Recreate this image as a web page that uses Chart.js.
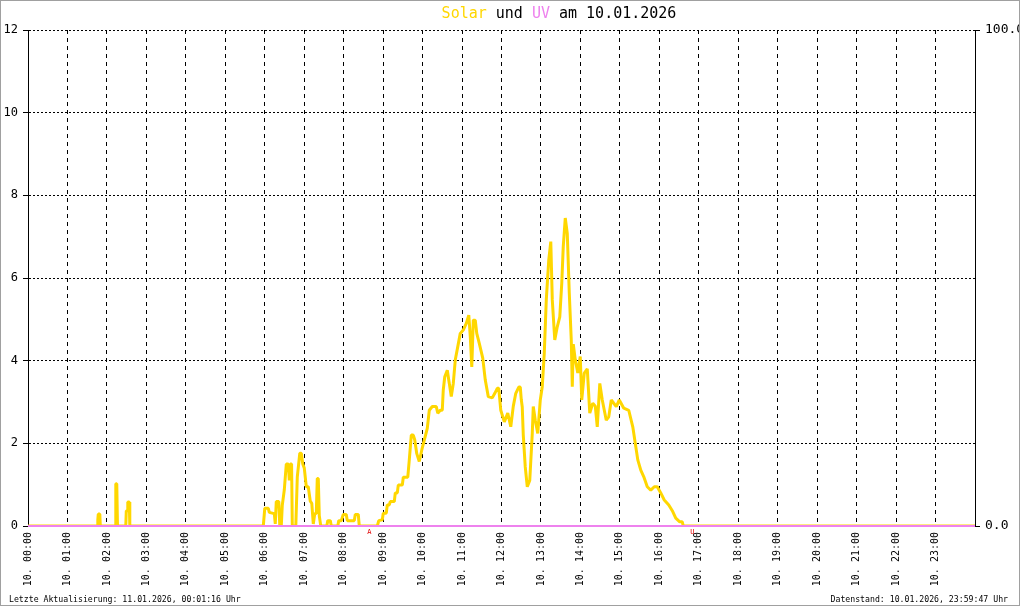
<!DOCTYPE html>
<html>
<head>
<meta charset="utf-8">
<script src="https://cdn.jsdelivr.net/npm/chart.js@4.4.1/dist/chart.umd.min.js"></script>
<style>
  html, body { margin: 0; padding: 0; background: #fff; }
  canvas { display: block; }
</style>
</head>
<body>
<canvas id="solarChart" width="1020" height="606"></canvas>
<script>
// time of day in hours, solar values (left axis)
var solarTime = [
  0, 1.756, 1.769, 1.781, 1.820, 1.832, 2.207, 2.225, 2.250, 2.268,
  2.478, 2.491, 2.516, 2.529, 2.567, 2.580, 5.963, 6.001, 6.090, 6.115,
  6.242, 6.267, 6.292, 6.356, 6.381, 6.419, 6.444, 6.495, 6.546, 6.597,
  6.622, 6.647, 6.680, 6.698, 6.787, 6.825, 6.888, 6.926, 6.964, 7.002,
  7.053, 7.103, 7.154, 7.192, 7.230, 7.268, 7.306, 7.331, 7.357, 7.382,
  7.420, 7.572, 7.598, 7.661, 7.686, 7.851, 7.876, 7.940, 7.990, 8.066,
  8.092, 8.269, 8.294, 8.370, 8.396, 8.852, 8.890, 8.979, 9.004, 9.080,
  9.105, 9.156, 9.181, 9.283, 9.308, 9.359, 9.384, 9.486, 9.511, 9.625,
  9.663, 9.714, 9.764, 9.802, 9.853, 9.916, 9.980, 10.043, 10.119, 10.170,
  10.246, 10.347, 10.385, 10.448, 10.499, 10.524, 10.562, 10.626, 10.677, 10.727,
  10.778, 10.829, 10.892, 10.955, 11.031, 11.107, 11.171, 11.209, 11.247, 11.285,
  11.335, 11.373, 11.437, 11.525, 11.589, 11.665, 11.766, 11.830, 11.893, 11.931,
  11.982, 12.071, 12.159, 12.235, 12.299, 12.362, 12.438, 12.476, 12.501, 12.526,
  12.552, 12.602, 12.653, 12.716, 12.780, 12.805, 12.856, 12.919, 12.983, 13.033,
  13.084, 13.135, 13.198, 13.249, 13.287, 13.350, 13.413, 13.477, 13.527, 13.565,
  13.616, 13.667, 13.718, 13.768, 13.794, 13.819, 13.870, 13.933, 13.996, 14.034,
  14.098, 14.174, 14.237, 14.313, 14.377, 14.427, 14.491, 14.554, 14.605, 14.655,
  14.718, 14.782, 14.845, 14.909, 14.985, 15.099, 15.225, 15.327, 15.390, 15.454,
  15.530, 15.606, 15.694, 15.783, 15.872, 15.948, 16.036, 16.125, 16.239, 16.340,
  16.416, 16.518, 16.581, 16.607, 24
];
var solarValue = [
  0, 0, 0.15, 0.29, 0.29, 0, 0, 1.02, 1.02, 0,
  0, 0.37, 0.37, 0.58, 0.58, 0, 0, 0.43, 0.43, 0.33,
  0.30, 0.05, 0.59, 0.59, 0, 0, 0.50, 0.87, 1.50, 1.50,
  1.10, 1.50, 1.50, 0, 0, 1.19, 1.76, 1.76, 1.50, 1.40,
  0.95, 0.95, 0.60, 0.55, 0.05, 0.30, 0.30, 1.15, 1.15, 0.25,
  0, 0, 0.13, 0.13, 0, 0, 0.13, 0.13, 0.28, 0.28,
  0.13, 0.13, 0.28, 0.28, 0, 0, 0.13, 0.15, 0.31, 0.31,
  0.51, 0.51, 0.59, 0.59, 0.80, 0.80, 0.99, 0.99, 1.18, 1.18,
  1.60, 2.20, 2.20, 2.08, 1.75, 1.56, 1.84, 2.08, 2.36, 2.80,
  2.89, 2.89, 2.73, 2.80, 2.80, 3.29, 3.61, 3.77, 3.45, 3.13,
  3.45, 4.02, 4.34, 4.66, 4.74, 4.90, 5.10, 4.58, 3.85, 4.98,
  4.98, 4.66, 4.42, 4.06, 3.53, 3.13, 3.10, 3.21, 3.33, 3.33,
  2.80, 2.52, 2.73, 2.40, 2.90, 3.21, 3.36, 3.36, 3.06, 2.88,
  2.20, 1.43, 0.95, 1.10, 2.24, 2.89, 2.56, 2.24, 3.05, 3.37,
  4.18, 5.47, 6.44, 6.88, 5.47, 4.50, 4.82, 5.06, 5.87, 6.76,
  7.45, 7.08, 5.63, 4.50, 3.37, 4.40, 4.02, 3.70, 4.10, 3.05,
  3.70, 3.80, 2.73, 2.97, 2.90, 2.40, 3.45, 3.05, 2.80, 2.56,
  2.64, 3.05, 2.97, 2.89, 3.05, 2.85, 2.80, 2.40, 2.00, 1.60,
  1.35, 1.19, 0.95, 0.87, 0.95, 0.95, 0.80, 0.63, 0.51, 0.35,
  0.19, 0.10, 0.10, 0, 0
];

// UV (right axis)
var uvTime = [0, 24];
var uvValue = [0, 0];

var hourTicks = [0, 1, 2, 3, 4, 5, 6, 7, 8, 9, 10, 11, 12, 13, 14, 15, 16, 17, 18, 19, 20, 21, 22, 23, 24];
var hourLabels = [
  "10. 00:00", "10. 01:00", "10. 02:00", "10. 03:00", "10. 04:00", "10. 05:00",
  "10. 06:00", "10. 07:00", "10. 08:00", "10. 09:00", "10. 10:00", "10. 11:00",
  "10. 12:00", "10. 13:00", "10. 14:00", "10. 15:00", "10. 16:00", "10. 17:00",
  "10. 18:00", "10. 19:00", "10. 20:00", "10. 21:00", "10. 22:00", "10. 23:00", ""
];
var uvTicks = [0, 100];

// sunrise (A) / sunset (U) markers
var sunrise = 8.65;
var sunset = 16.835;

var titleParts = [["Solar", "#ffd700"], [" und ", "#000"], ["UV", "#ee82ee"], [" am 10.01.2026", "#000"]];
var footLeft = "Letzte Aktualisierung: 11.01.2026, 00:01:16 Uhr";
var footRight = "Datenstand: 10.01.2026, 23:59:47 Uhr";

var MONO = "'DejaVu Sans Mono', 'Liberation Mono', monospace";

var solarPoints = solarTime.map(function (t, i) { return { x: t, y: solarValue[i] }; });
var uvPoints = uvTime.map(function (t, i) { return { x: t, y: uvValue[i] }; });

var decor = {
  id: "decor",
  afterDraw: function (chart) {
    var c = chart.ctx;
    c.save();
    // title
    c.font = "15px " + MONO;
    c.textBaseline = "alphabetic";
    c.textAlign = "left";
    var total = 0;
    titleParts.forEach(function (p) { total += c.measureText(p[0]).width; });
    var tx = 559 - total / 2;
    titleParts.forEach(function (p) {
      c.fillStyle = p[1];
      c.fillText(p[0], tx, 18);
      tx += c.measureText(p[0]).width;
    });
    // footer
    c.font = "8.2px " + MONO;
    c.fillStyle = "#000";
    c.fillText(footLeft, 9, 602);
    c.textAlign = "right";
    c.fillText(footRight, 1008, 602);
    // sunrise / sunset
    var xs = chart.scales.x;
    c.font = "7px " + MONO;
    c.fillStyle = "#e00000";
    c.textAlign = "center";
    c.fillText("A", xs.getPixelForValue(sunrise), 534);
    c.fillText("U", xs.getPixelForValue(sunset), 534);
    // frame
    c.strokeStyle = "#a0a0a0";
    c.lineWidth = 1;
    c.strokeRect(0.5, 0.5, 1019, 605);
    c.restore();
  }
};

var ctx = document.getElementById("solarChart").getContext("2d");

new Chart(ctx, {
  type: "line",
  data: {
    datasets: [
      {
        label: "UV",
        data: uvPoints,
        yAxisID: "yUv",
        borderColor: "#ee82ee",
        borderWidth: 2,
        pointRadius: 0,
        tension: 0,
        clip: 4,
        order: 0
      },
      {
        label: "Solar",
        data: solarPoints,
        yAxisID: "ySolar",
        borderColor: "#ffd700",
        borderWidth: 3,
        borderJoinStyle: "bevel",
        pointRadius: 0,
        tension: 0,
        clip: { left: 4, right: 4, top: 4, bottom: 1 },
        order: 1
      }
    ]
  },
  options: {
    responsive: false,
    animation: false,
    devicePixelRatio: 1,
    layout: { padding: { top: 30, left: 0, right: 0, bottom: 0 } },
    plugins: {
      legend: { display: false },
      tooltip: { enabled: false }
    },
    scales: {
      x: {
        type: "linear",
        min: 0,
        max: 24,
        afterBuildTicks: function (s) { s.ticks = hourTicks.map(function (v) { return { value: v }; }); },
        afterFit: function (s) { s.height = 80; },
        ticks: {
          autoSkip: false,
          minRotation: 90,
          maxRotation: 90,
          padding: 6,
          color: "#000",
          font: { family: MONO, size: 10 },
          callback: function (v) { return hourLabels[v]; }
        },
        grid: {
          color: function (c) { return c.tick && c.tick.value === 24 ? "rgba(0,0,0,0)" : "#000"; },
          drawTicks: false
        },
        border: { display: false, dash: [4, 4] }
      },
      ySolar: {
        position: "left",
        min: 0,
        max: 12,
        afterFit: function (s) { s.width = 28; },
        ticks: {
          stepSize: 2,
          padding: 5,
          color: "#000",
          font: { family: MONO, size: 12 }
        },
        grid: { color: "#000", tickLength: 5, tickColor: "#000", tickBorderDash: [] },
        border: { display: true, color: "#000", dash: [2, 2] }
      },
      yUv: {
        position: "right",
        min: 0,
        max: 100,
        afterBuildTicks: function (s) { s.ticks = uvTicks.map(function (v) { return { value: v }; }); },
        afterFit: function (s) { s.width = 45; },
        ticks: {
          padding: 5,
          color: "#000",
          font: { family: MONO, size: 13 },
          callback: function (v) { return Number(v).toFixed(1); }
        },
        grid: { drawOnChartArea: false, tickLength: 5, tickColor: "#000" },
        border: { display: true, color: "#000" }
      }
    }
  },
  plugins: [decor]
});
</script>
</body>
</html>
